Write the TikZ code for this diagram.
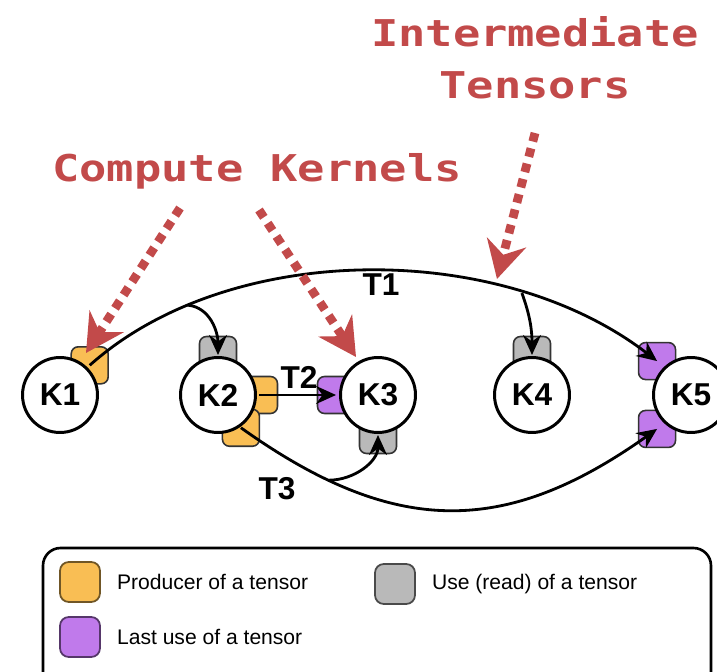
\documentclass[tikz,border=0pt]{standalone}
\usepackage{fontspec}
\setmainfont{Liberation Sans}
\newfontfamily\callfont[FakeStretch=1.23]{DejaVu Sans Mono}
\usepackage{xcolor}
\usetikzlibrary{arrows.meta,positioning,calc,backgrounds}
\definecolor{prodcol}{RGB}{249,190,84}
\definecolor{usecol}{RGB}{185,185,185}
\definecolor{lastcol}{RGB}{192,122,235}
\definecolor{callred}{RGB}{194,74,74}

\begin{document}
\begin{tikzpicture}[x=0.02cm, y=0.02cm,
  kern/.style={circle, draw, line width=1.7pt, fill=white, minimum size=1.5cm,
    inner sep=0pt, font=\fontsize{18}{20}\selectfont\bfseries},
  badge/.style={rectangle, rounded corners=4pt, minimum size=0.74cm, draw=black!80, line width=0.9pt},
  prodbadge/.style={badge, fill=prodcol},
  usebadge/.style={badge, fill=usecol},
  lastbadge/.style={badge, fill=lastcol},
  arr/.style={-{Stealth[length=4mm, width=3.6mm]}, line width=1.6pt},
  tlab/.style={font=\fontsize{18}{20}\selectfont\bfseries, inner sep=1pt},
  call/.style={callred, line width=5pt, dash pattern=on 5pt off 4pt,
    -{Stealth[length=7.5mm, width=8mm, inset=2.5mm]}},
  calltext/.style={text=callred, font=\fontsize{21}{29.5}\selectfont\callfont\bfseries, align=center},
  legbox/.style={rectangle, rounded corners=5pt, minimum size=0.8cm, line width=1pt},
  legtext/.style={anchor=west, font=\fontsize{12}{14}\selectfont}]
\useasboundingbox (0,0) rectangle (717,-672);
% ---- compute kernels ----
\node[kern] (k1) at (60,-395) {K1};
\node[kern] (k2) at (218,-395) {K2};
\node[kern] (k3) at (378,-395) {K3};
\node[kern] (k4) at (532,-395) {K4};
\node[kern] (k5) at (691,-395) {K5};
% ---- tensor ports, behind the kernels ----
\begin{pgfonlayer}{background}
\node[prodbadge] (k1out) at ($(k1)+(45:42)$) {};
\node[usebadge] (k2top) at ($(k2)+(90:40)$) {};
\node[prodbadge] (k2out) at ($(k2)+(0:41)$) {};
\node[prodbadge] (k2low) at ($(k2)+(-55:40)$) {};
\node[lastbadge] (k3in) at ($(k3)+(180:42)$) {};
\node[usebadge] (k3bot) at ($(k3)+(-90:40)$) {};
\node[usebadge] (k4top) at ($(k4)+(90:40)$) {};
\node[lastbadge] (k5in1) at ($(k5)+(135:48)$) {};
\node[lastbadge] (k5in2) at ($(k5)+(225:48)$) {};
\end{pgfonlayer}
% ---- intermediate tensors ----
\draw[arr] (k1out.center) .. controls (230,-240) and (500,-240) .. (k5in1.center)
  coordinate[pos=0.2] (t1a) coordinate[pos=0.75] (t1b);
\draw[arr] (t1a) to[out=-5, in=90] (k2top.center);
\draw[arr] (t1b) to[out=-70, in=90] (k4top.center);
\node[tlab] (t1lab) at (381,-285) {T1};
\draw[arr] (k2out.center) -- (k3in.center);
\node[tlab] (t2lab) at (299,-377) {T2};
\draw[arr] (k2low.center) .. controls (394,-537) and (505,-537) .. (k5in2.center)
  coordinate[pos=0.2] (t3a);
\draw[arr] (t3a) to[out=0, in=-90] (k3bot.center);
\node[tlab] (t3lab) at (277,-489) {T3};
% ---- callouts ----
\node[calltext] (ck) at (257,-171) {Compute Kernels};
\node[calltext] (it) at (535,-58) {Intermediate\\Tensors};
\coordinate (ck1) at (180,-208);
\coordinate (ck1tip) at (86,-353);
\coordinate (ck2) at (259,-210);
\coordinate (ck2tip) at (356,-357);
\coordinate (it1) at (535,-133);
\coordinate (it1tip) at (497,-279);
\draw[call] (ck1) -- (ck1tip);
\draw[call] (ck2) -- (ck2tip);
\draw[call] (it1) -- (it1tip);
% ---- legend ----
\draw[line width=1.5pt, rounded corners=10pt] (43,-548) rectangle (711,-700);
\node[legbox, fill=prodcol, draw=prodcol!45!black] (lprod) at (80,-582) {};
\node[legtext, right=0.2cm of lprod] (lprodt) {Producer of a tensor};
\node[legbox, fill=usecol, draw=usecol!40!black] (luse) at (395,-584) {};
\node[legtext, right=0.2cm of luse] (luset) {Use (read) of a tensor};
\node[legbox, fill=lastcol, draw=lastcol!45!black] (llast) at (80,-637) {};
\node[legtext, right=0.2cm of llast] (llastt) {Last use of a tensor};
\end{tikzpicture}
\end{document}
